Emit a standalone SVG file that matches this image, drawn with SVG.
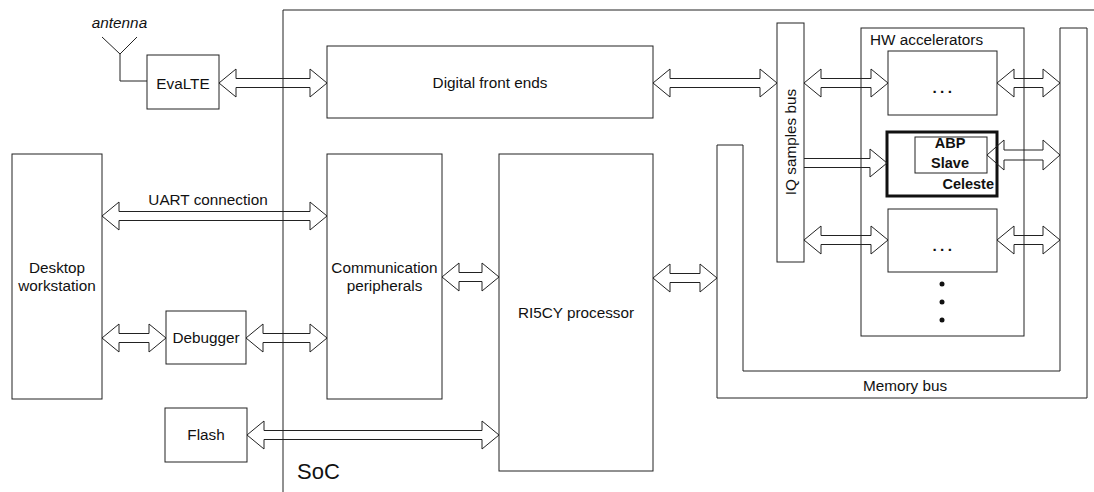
<svg xmlns="http://www.w3.org/2000/svg" width="1094" height="492" viewBox="0 0 1094 492">
<style>
.box{fill:#fff;stroke:#222;stroke-width:1}
.ln{fill:none;stroke:#222;stroke-width:1}
.arr{fill:none;stroke:#222;stroke-width:1;stroke-linejoin:miter}
text{font-family:"Liberation Sans",Arial,sans-serif;font-size:15.3px;fill:#111}
.c{text-anchor:middle}
.b{font-weight:bold;font-size:14.5px}
.dots{font-weight:bold;letter-spacing:3.5px}
</style>
<rect width="1094" height="492" fill="#fff"/>
<g id="soc">
<path class="ln" d="M283,492 V10 H1094"/>
<text x="297" y="479" style="font-size:22px">SoC</text>
</g>
<g id="antenna">
<path class="ln" d="M102,37 L120,54 L137,37 M120,54 V81 H147"/>
<text x="119.5" y="28" class="c" style="font-style:italic">antenna</text>
</g>
<g id="evalte">
<rect class="box" x="147" y="55" width="72" height="54"/>
<text x="183" y="89" class="c">EvaLTE</text>
</g>
<g id="dfe">
<rect class="box" x="327" y="46" width="326" height="72"/>
<text x="490" y="88" class="c">Digital front ends</text>
</g>
<g id="iqbus">
<rect class="box" x="777" y="23" width="27" height="239"/>
<text transform="translate(796,142) rotate(-90)" class="c">IQ samples bus</text>
</g>
<g id="membus">
<path class="box" d="M717,145 H743 V371 H1060 V28 H1087 V398 H717 Z"/>
<text x="905" y="391" class="c">Memory bus</text>
</g>
<g id="hwacc">
<rect class="ln" x="861" y="28" width="163" height="308"/>
<text x="870" y="45">HW accelerators</text>
<circle cx="942" cy="284" r="2.5" fill="#111"/>
<circle cx="942" cy="302" r="2.5" fill="#111"/>
<circle cx="942" cy="320" r="2.5" fill="#111"/>
</g>
<g id="acc1">
<rect class="box" x="888" y="51" width="109" height="64"/>
<text x="944" y="93" class="c dots">...</text>
</g>
<g id="celeste">
<rect x="887" y="132" width="110" height="64" fill="#fff" stroke="#111" stroke-width="3"/>
<rect class="box" x="915" y="137" width="72" height="36"/>
<text x="950" y="148" class="c b">ABP</text>
<text x="950" y="168" class="c b">Slave</text>
<text x="994" y="189" class="b" text-anchor="end">Celeste</text>
</g>
<g id="acc2">
<rect class="box" x="888" y="209" width="109" height="63"/>
<text x="944" y="251" class="c dots">...</text>
</g>
<g id="desktop">
<rect class="box" x="12" y="154" width="90" height="245"/>
<text x="57" y="273" class="c">Desktop</text>
<text x="57" y="291" class="c">workstation</text>
</g>
<g id="debugger">
<rect class="box" x="166" y="311" width="80" height="53"/>
<text x="206" y="343" class="c">Debugger</text>
</g>
<g id="flash">
<rect class="box" x="165" y="408" width="82" height="54"/>
<text x="206" y="440" class="c">Flash</text>
</g>
<g id="comm">
<rect class="box" x="327" y="154" width="115" height="245"/>
<text x="384.5" y="273" class="c">Communication</text>
<text x="384.5" y="291" class="c">peripherals</text>
</g>
<g id="ri5cy">
<rect class="box" x="499" y="154" width="154" height="317"/>
<text x="576" y="318" class="c">RI5CY processor</text>
</g>
<g id="connectors">
<polygon class="arr" points="219,83 236,69 236,78.5 310,78.5 310,69 327,83 310,97 310,87.5 236,87.5 236,97"/>
<polygon class="arr" points="653,83 670,69 670,78.5 760,78.5 760,69 777,83 760,97 760,87.5 670,87.5 670,97"/>
<polygon class="arr" points="804,83 821,69 821,78.5 871,78.5 871,69 888,83 871,97 871,87.5 821,87.5 821,97"/>
<polygon class="arr" points="997,83 1014,69 1014,78.5 1043,78.5 1043,69 1060,83 1043,97 1043,87.5 1014,87.5 1014,97"/>
<path class="arr" d="M804,158.5 H870 V149 L887,163 L870,177 V167.5 H804"/>
<polygon class="arr" points="987,155 1004,140 1004,150 1043,150 1043,140 1060,155 1043,170 1043,160 1004,160 1004,170"/>
<polygon class="arr" points="804,240 821,226 821,235.5 871,235.5 871,226 888,240 871,254 871,244.5 821,244.5 821,254"/>
<polygon class="arr" points="997,240 1014,226 1014,235.5 1043,235.5 1043,226 1060,240 1043,254 1043,244.5 1014,244.5 1014,254"/>
<polygon class="arr" points="102,216 119,202 119,211.5 310,211.5 310,202 327,216 310,230 310,220.5 119,220.5 119,230"/>
<text x="208" y="205" class="c">UART connection</text>
<polygon class="arr" points="102,338 119,324 119,333.5 149,333.5 149,324 166,338 149,352 149,342.5 119,342.5 119,352"/>
<polygon class="arr" points="246,338 263,324 263,333.5 310,333.5 310,324 327,338 310,352 310,342.5 263,342.5 263,352"/>
<polygon class="arr" points="442,277 459,263 459,272.5 482,272.5 482,263 499,277 482,291 482,281.5 459,281.5 459,291"/>
<polygon class="arr" points="653,278 670,264 670,273.5 700,273.5 700,264 717,278 700,292 700,282.5 670,282.5 670,292"/>
<polygon class="arr" points="247,435 264,421 264,430.5 482,430.5 482,421 499,435 482,449 482,439.5 264,439.5 264,449"/>
</g>
</svg>
